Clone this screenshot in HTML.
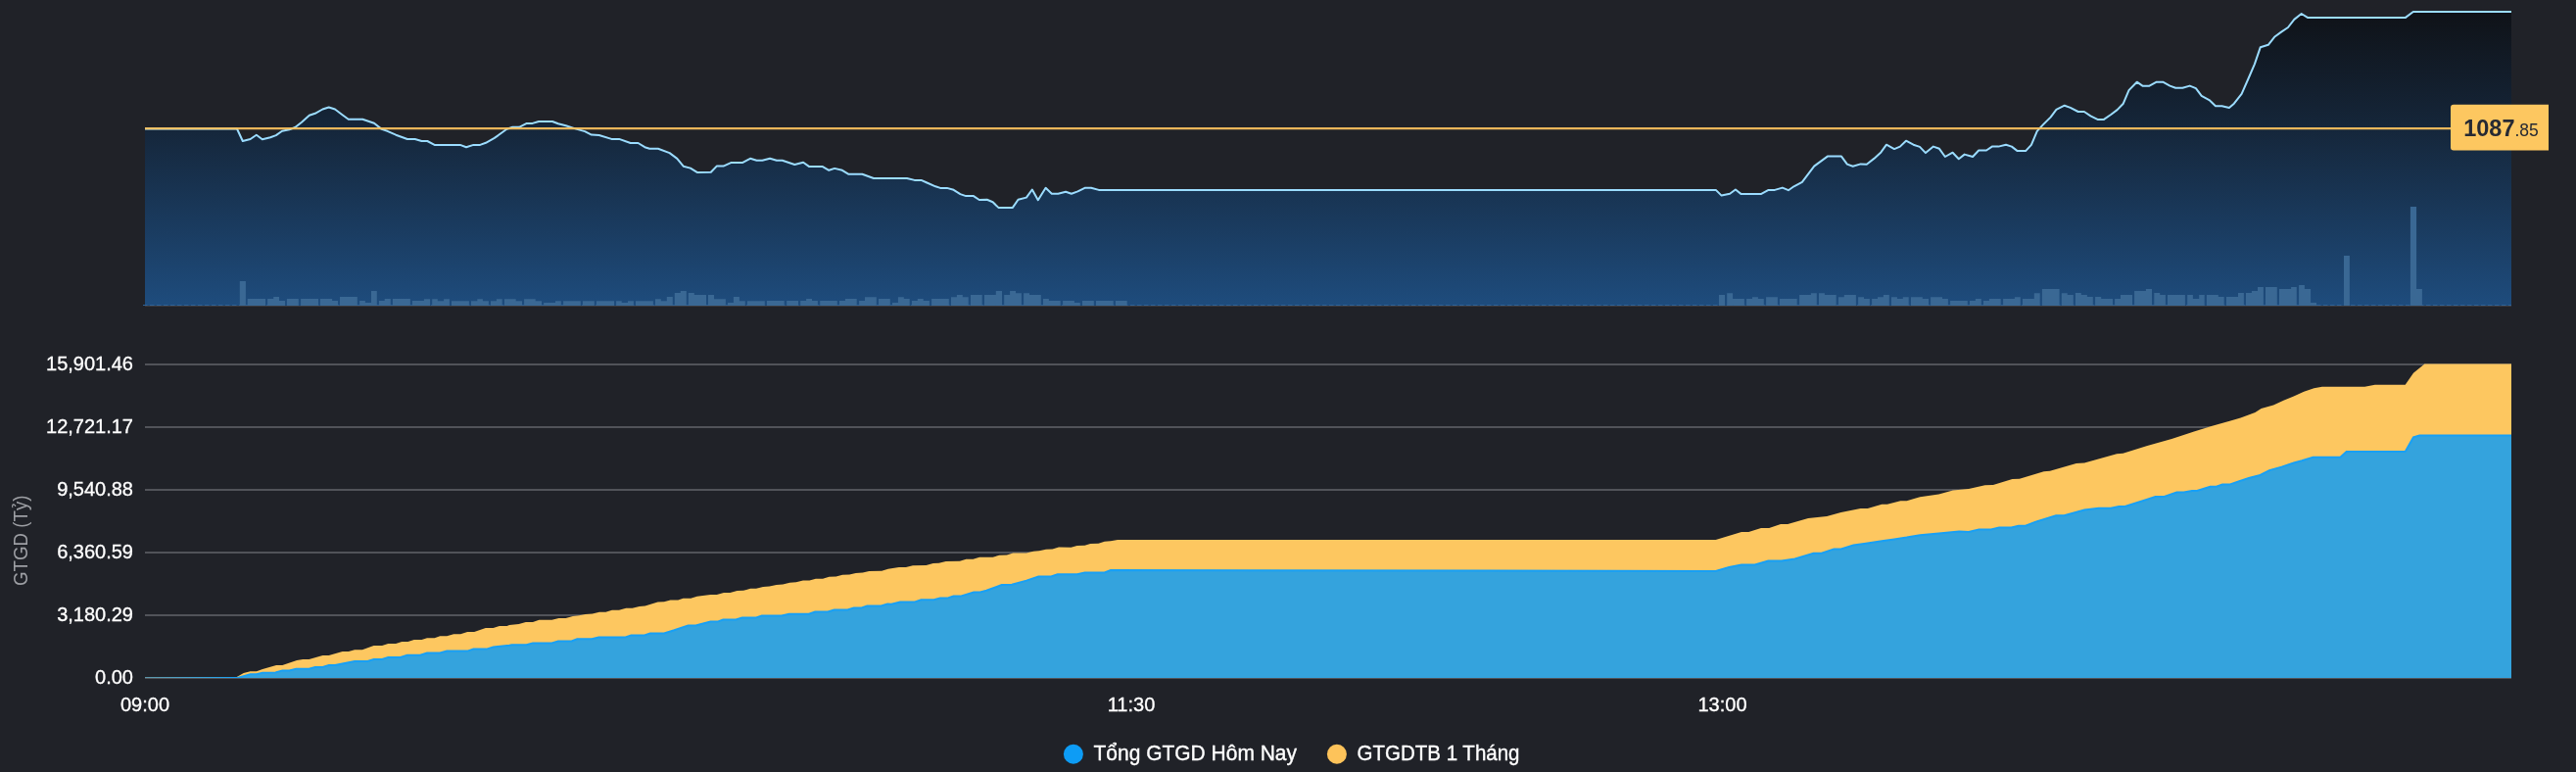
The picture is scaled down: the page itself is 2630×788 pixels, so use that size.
<!DOCTYPE html>
<html><head><meta charset="utf-8"><style>
html,body{margin:0;padding:0;background:#202228;width:2630px;height:788px;overflow:hidden}
svg{display:block;will-change:transform}
text{font-family:"Liberation Sans",sans-serif}
</style></head><body>
<svg width="2630" height="788" viewBox="0 0 2630 788">
<defs>
<linearGradient id="g1" gradientUnits="userSpaceOnUse" x1="0" y1="10" x2="0" y2="312">
<stop offset="0" stop-color="#0f1217"/>
<stop offset="0.4" stop-color="#15263a"/>
<stop offset="1" stop-color="#1e4c7d"/>
</linearGradient>
<clipPath id="c2"><rect x="148" y="300" width="2416" height="392"/></clipPath>
</defs>
<rect width="2630" height="788" fill="#202228"/>
<polygon points="148.0,131.5 242.0,131.5 247.8,144.0 255.6,142.0 261.8,137.7 267.8,142.2 276.0,140.2 281.8,138.1 288.0,133.8 295.4,132.3 301.3,130.0 308.0,124.7 315.8,117.7 321.7,115.8 329.4,111.5 335.7,109.5 342.0,111.5 348.9,116.7 355.7,121.8 370.2,121.8 382.0,125.7 389.7,131.9 395.5,133.8 404.2,137.7 415.9,142.0 423.7,142.0 430.5,144.0 436.3,144.0 443.6,147.9 469.8,147.9 476.0,150.2 483.4,147.9 490.2,147.9 496.0,145.8 504.8,140.9 511.6,136.0 517.4,131.8 523.3,129.8 530.0,129.8 537.8,125.9 543.7,125.9 550.0,124.0 564.0,124.0 569.9,126.3 577.7,128.3 587.4,131.4 597.1,134.1 603.9,137.6 611.7,138.0 624.3,141.9 632.1,141.9 643.7,146.0 651.5,146.0 658.3,150.2 663.2,151.8 671.9,151.8 683.6,156.1 691.3,161.9 697.7,169.7 704.9,171.6 711.7,175.9 725.8,175.8 731.7,169.6 738.5,169.6 746.2,166.1 757.9,166.1 766.0,161.8 772.5,163.7 778.3,163.7 786.1,161.8 792.9,163.7 798.7,163.7 811.3,168.0 820.1,165.7 825.9,169.9 839.5,169.9 846.3,173.8 852.1,171.9 859.9,173.8 866.1,177.7 880.3,177.7 892.0,182.0 926.0,182.0 933.7,183.9 940.5,183.9 946.4,186.5 955.1,190.3 960.0,191.9 966.8,191.9 973.6,193.8 980.4,198.1 986.2,200.1 994.0,200.1 999.8,204.0 1007.7,203.8 1013.6,206.2 1019.4,211.9 1033.9,211.9 1039.5,203.8 1047.9,201.6 1053.8,193.5 1059.8,204.2 1067.6,191.8 1073.8,197.7 1080.3,197.7 1088.1,195.8 1093.9,197.7 1100.4,195.4 1107.5,191.8 1114.0,191.8 1121.8,193.9 1751.8,193.9 1757.6,199.6 1766.1,197.8 1771.9,193.5 1777.7,198.1 1797.8,198.1 1805.6,193.9 1812.0,193.9 1819.8,191.6 1825.9,194.2 1831.5,190.3 1839.9,185.8 1852.2,169.6 1865.8,159.6 1880.0,159.6 1885.9,167.6 1891.7,169.8 1899.7,167.4 1905.8,167.7 1913.3,161.9 1920.4,155.4 1926.0,147.7 1934.0,152.1 1939.9,149.6 1946.0,143.7 1953.5,147.7 1960.0,149.9 1966.0,156.1 1973.9,149.6 1980.0,151.8 1985.9,160.0 1993.6,155.7 1999.8,162.2 2005.7,157.6 2014.1,160.0 2020.2,153.5 2028.0,153.5 2033.8,149.6 2040.3,149.6 2048.0,147.7 2053.9,149.6 2059.7,154.1 2068.1,154.1 2073.9,147.9 2079.8,133.9 2085.8,127.4 2093.6,119.6 2099.4,111.8 2107.8,107.7 2113.7,109.9 2121.7,114.0 2127.9,114.0 2134.4,118.3 2141.5,121.9 2148.0,121.9 2155.1,117.0 2161.6,112.1 2167.8,105.7 2173.5,92.1 2181.7,83.7 2187.8,87.8 2194.0,87.8 2201.8,83.7 2208.2,83.7 2215.4,87.6 2221.2,89.8 2228.3,89.8 2235.7,87.6 2241.9,90.1 2247.7,97.8 2255.5,102.1 2262.0,108.2 2268.5,108.2 2275.9,110.0 2280.9,105.7 2288.6,95.9 2295.6,80.0 2301.9,65.3 2307.8,48.2 2315.8,45.8 2322.1,37.8 2329.1,32.6 2336.0,28.0 2342.3,19.9 2349.7,14.0 2355.9,17.9 2456.0,17.9 2463.8,12.0 2564.0,12.0 2564,312 148,312" fill="url(#g1)"/>
<line x1="146" y1="311.5" x2="2564" y2="311.5" stroke="#2f6296" stroke-width="1" stroke-dasharray="4.5,2.5"/>
<line x1="148" y1="312.5" x2="2564" y2="312.5" stroke="#3b3a3f" stroke-width="1"/>
<g fill="#3a6894"><path d="M244.8,287.1H250.9V312H244.8ZM252.7,304.9H271.0V312H252.7ZM273.1,304.9H279.2V312H273.1ZM279.2,303.0H285.0V312H279.2ZM285.0,307.0H291.0V312H285.0ZM292.9,304.9H304.8V312H292.9ZM307.1,304.9H325.0V312H307.1ZM326.9,304.9H339.1V312H326.9ZM339.1,307.0H345.0V312H339.1ZM347.0,303.0H364.8V312H347.0ZM367.1,307.0H372.9V312H367.1ZM372.9,309.0H379.0V312H372.9ZM379.0,297.0H384.8V312H379.0ZM386.9,307.0H392.7V312H386.9ZM392.7,304.9H398.8V312H392.7ZM400.9,304.9H418.9V312H400.9ZM420.9,307.0H432.9V312H420.9ZM432.9,305.2H439.1V312H432.9ZM441.2,305.2H446.8V312H441.2ZM446.8,307.2H453.1V312H446.8ZM453.1,305.2H458.9V312H453.1ZM461.0,307.2H478.9V312H461.0ZM481.0,307.2H487.3V312H481.0ZM487.3,305.2H492.9V312H487.3ZM492.9,307.2H498.9V312H492.9ZM501.0,307.2H506.9V312H501.0ZM506.9,305.2H512.7V312H506.9ZM515.0,305.2H526.7V312H515.0ZM526.7,307.2H533.0V312H526.7ZM535.1,305.2H546.7V312H535.1ZM546.7,307.2H553.0V312H546.7ZM555.1,309.1H567.0V312H555.1ZM567.0,307.2H572.8V312H567.0ZM575.1,307.2H592.8V312H575.1ZM594.9,307.2H606.8V312H594.9ZM608.9,307.2H627.0V312H608.9ZM629.1,307.2H634.7V312H629.1ZM634.7,309.1H641.0V312H634.7ZM641.0,307.2H646.9V312H641.0ZM649.0,307.2H666.9V312H649.0ZM669.0,305.2H674.8V312H669.0ZM674.8,307.2H680.8V312H674.8ZM680.8,303.1H686.8V312H680.8ZM688.8,299.1H694.8V312H688.8ZM694.8,297.0H700.8V312H694.8ZM702.8,299.1H708.8V312H702.8ZM708.8,301.0H721.0V312H708.8ZM723.0,301.0H729.0V312H723.0ZM729.0,305.2H740.9V312H729.0ZM743.0,309.1H748.9V312H743.0ZM748.9,303.1H754.9V312H748.9ZM754.9,307.2H760.8V312H754.9ZM762.9,307.2H780.8V312H762.9ZM782.9,307.0H800.7V312H782.9ZM803.2,307.0H815.0V312H803.2ZM817.2,307.0H823.1V312H817.2ZM823.1,305.1H829.0V312H823.1ZM829.0,307.0H834.9V312H829.0ZM837.2,307.0H854.8V312H837.2ZM857.0,307.0H862.9V312H857.0ZM862.9,305.1H874.7V312H862.9ZM877.1,307.0H883.0V312H877.1ZM883.0,303.2H894.8V312H883.0ZM897.0,305.1H908.8V312H897.0ZM911.0,309.0H916.9V312H911.0ZM916.9,303.2H922.8V312H916.9ZM922.8,305.1H928.7V312H922.8ZM930.9,307.0H936.8V312H930.9ZM936.8,305.1H942.7V312H936.8ZM942.7,307.0H948.9V312H942.7ZM951.1,305.1H968.8V312H951.1ZM971.0,303.2H976.9V312H971.0ZM976.9,301.1H982.8V312H976.9ZM982.8,303.2H988.7V312H982.8ZM991.0,301.1H1002.7V312H991.0ZM1005.0,301.1H1016.8V312H1005.0ZM1016.8,297.0H1023.0V312H1016.8ZM1025.2,301.1H1031.1V312H1025.2ZM1031.1,297.0H1037.0V312H1031.1ZM1037.0,299.2H1042.9V312H1037.0ZM1045.1,299.2H1051.0V312H1045.1ZM1051.0,301.1H1062.8V312H1051.0ZM1065.0,305.1H1070.9V312H1065.0ZM1070.9,307.0H1082.7V312H1070.9ZM1085.1,307.0H1096.9V312H1085.1ZM1096.9,309.0H1102.8V312H1096.9ZM1105.0,307.0H1116.8V312H1105.0ZM1119.0,307.0H1136.7V312H1119.0ZM1138.9,307.0H1150.7V312H1138.9ZM1755.0,301.1H1761.0V312H1755.0ZM1763.2,299.2H1769.1V312H1763.2ZM1769.1,305.1H1780.9V312H1769.1ZM1783.1,305.1H1789.0V312H1783.1ZM1789.0,303.2H1794.9V312H1789.0ZM1794.9,305.1H1800.8V312H1794.9ZM1803.1,303.2H1814.9V312H1803.1ZM1817.0,305.1H1834.7V312H1817.0ZM1837.1,301.1H1848.9V312H1837.1ZM1848.9,299.2H1854.8V312H1848.9ZM1857.0,299.2H1862.9V312H1857.0ZM1862.9,301.1H1874.7V312H1862.9ZM1876.9,303.2H1882.8V312H1876.9ZM1882.8,301.1H1894.9V312H1882.8ZM1897.1,303.2H1903.0V312H1897.1ZM1903.0,305.1H1908.9V312H1903.0ZM1911.1,305.1H1917.0V312H1911.1ZM1917.0,303.2H1922.9V312H1917.0ZM1922.9,301.1H1928.8V312H1922.9ZM1931.0,303.2H1936.9V312H1931.0ZM1936.9,305.1H1942.8V312H1936.9ZM1942.8,303.2H1948.7V312H1942.8ZM1951.0,303.2H1962.8V312H1951.0ZM1962.8,305.1H1969.0V312H1962.8ZM1971.1,303.2H1983.0V312H1971.1ZM1983.0,305.1H1988.9V312H1983.0ZM1991.1,307.0H2008.8V312H1991.1ZM2011.0,307.0H2016.9V312H2011.0ZM2016.9,305.1H2022.8V312H2016.9ZM2025.0,307.0H2030.9V312H2025.0ZM2030.9,305.1H2042.7V312H2030.9ZM2045.1,305.1H2056.9V312H2045.1ZM2056.9,303.2H2062.8V312H2056.9ZM2065.0,305.1H2076.8V312H2065.0ZM2076.8,299.2H2082.7V312H2076.8ZM2084.9,295.0H2102.6V312H2084.9ZM2104.8,299.2H2110.7V312H2104.8ZM2110.7,300.9H2116.8V312H2110.7ZM2118.9,299.1H2124.8V312H2118.9ZM2124.8,300.9H2130.9V312H2124.8ZM2130.9,303.0H2136.8V312H2130.9ZM2139.1,303.0H2145.2V312H2139.1ZM2145.2,305.0H2157.0V312H2145.2ZM2159.1,305.0H2165.0V312H2159.1ZM2165.0,300.9H2177.0V312H2165.0ZM2179.1,297.0H2190.9V312H2179.1ZM2190.9,295.0H2197.0V312H2190.9ZM2199.3,299.1H2205.2V312H2199.3ZM2205.2,300.9H2210.9V312H2205.2ZM2213.0,300.9H2230.9V312H2213.0ZM2233.2,300.9H2238.9V312H2233.2ZM2238.9,305.0H2245.2V312H2238.9ZM2245.2,300.9H2250.7V312H2245.2ZM2252.9,300.9H2264.8V312H2252.9ZM2264.8,303.0H2270.7V312H2264.8ZM2273.0,303.0H2285.0V312H2273.0ZM2285.0,299.1H2290.9V312H2285.0ZM2293.0,299.1H2298.9V312H2293.0ZM2298.9,297.0H2305.0V312H2298.9ZM2305.0,292.9H2310.9V312H2305.0ZM2313.0,292.9H2324.8V312H2313.0ZM2327.0,295.0H2339.1V312H2327.0ZM2339.1,292.9H2344.8V312H2339.1ZM2347.1,291.1H2352.9V312H2347.1ZM2352.9,295.0H2359.1V312H2352.9ZM2359.1,308.9H2365.0V312H2359.1ZM2393.0,261.1H2398.9V312H2393.0ZM2460.9,211.1H2467.1V312H2460.9ZM2467.1,295.0H2472.9V312H2467.1Z"/></g>
<polyline points="148.0,131.5 242.0,131.5 247.8,144.0 255.6,142.0 261.8,137.7 267.8,142.2 276.0,140.2 281.8,138.1 288.0,133.8 295.4,132.3 301.3,130.0 308.0,124.7 315.8,117.7 321.7,115.8 329.4,111.5 335.7,109.5 342.0,111.5 348.9,116.7 355.7,121.8 370.2,121.8 382.0,125.7 389.7,131.9 395.5,133.8 404.2,137.7 415.9,142.0 423.7,142.0 430.5,144.0 436.3,144.0 443.6,147.9 469.8,147.9 476.0,150.2 483.4,147.9 490.2,147.9 496.0,145.8 504.8,140.9 511.6,136.0 517.4,131.8 523.3,129.8 530.0,129.8 537.8,125.9 543.7,125.9 550.0,124.0 564.0,124.0 569.9,126.3 577.7,128.3 587.4,131.4 597.1,134.1 603.9,137.6 611.7,138.0 624.3,141.9 632.1,141.9 643.7,146.0 651.5,146.0 658.3,150.2 663.2,151.8 671.9,151.8 683.6,156.1 691.3,161.9 697.7,169.7 704.9,171.6 711.7,175.9 725.8,175.8 731.7,169.6 738.5,169.6 746.2,166.1 757.9,166.1 766.0,161.8 772.5,163.7 778.3,163.7 786.1,161.8 792.9,163.7 798.7,163.7 811.3,168.0 820.1,165.7 825.9,169.9 839.5,169.9 846.3,173.8 852.1,171.9 859.9,173.8 866.1,177.7 880.3,177.7 892.0,182.0 926.0,182.0 933.7,183.9 940.5,183.9 946.4,186.5 955.1,190.3 960.0,191.9 966.8,191.9 973.6,193.8 980.4,198.1 986.2,200.1 994.0,200.1 999.8,204.0 1007.7,203.8 1013.6,206.2 1019.4,211.9 1033.9,211.9 1039.5,203.8 1047.9,201.6 1053.8,193.5 1059.8,204.2 1067.6,191.8 1073.8,197.7 1080.3,197.7 1088.1,195.8 1093.9,197.7 1100.4,195.4 1107.5,191.8 1114.0,191.8 1121.8,193.9 1751.8,193.9 1757.6,199.6 1766.1,197.8 1771.9,193.5 1777.7,198.1 1797.8,198.1 1805.6,193.9 1812.0,193.9 1819.8,191.6 1825.9,194.2 1831.5,190.3 1839.9,185.8 1852.2,169.6 1865.8,159.6 1880.0,159.6 1885.9,167.6 1891.7,169.8 1899.7,167.4 1905.8,167.7 1913.3,161.9 1920.4,155.4 1926.0,147.7 1934.0,152.1 1939.9,149.6 1946.0,143.7 1953.5,147.7 1960.0,149.9 1966.0,156.1 1973.9,149.6 1980.0,151.8 1985.9,160.0 1993.6,155.7 1999.8,162.2 2005.7,157.6 2014.1,160.0 2020.2,153.5 2028.0,153.5 2033.8,149.6 2040.3,149.6 2048.0,147.7 2053.9,149.6 2059.7,154.1 2068.1,154.1 2073.9,147.9 2079.8,133.9 2085.8,127.4 2093.6,119.6 2099.4,111.8 2107.8,107.7 2113.7,109.9 2121.7,114.0 2127.9,114.0 2134.4,118.3 2141.5,121.9 2148.0,121.9 2155.1,117.0 2161.6,112.1 2167.8,105.7 2173.5,92.1 2181.7,83.7 2187.8,87.8 2194.0,87.8 2201.8,83.7 2208.2,83.7 2215.4,87.6 2221.2,89.8 2228.3,89.8 2235.7,87.6 2241.9,90.1 2247.7,97.8 2255.5,102.1 2262.0,108.2 2268.5,108.2 2275.9,110.0 2280.9,105.7 2288.6,95.9 2295.6,80.0 2301.9,65.3 2307.8,48.2 2315.8,45.8 2322.1,37.8 2329.1,32.6 2336.0,28.0 2342.3,19.9 2349.7,14.0 2355.9,17.9 2456.0,17.9 2463.8,12.0 2564.0,12.0" fill="none" stroke="#9bdcff" stroke-width="2" stroke-linejoin="round"/>
<line x1="148" y1="131.2" x2="2502" y2="131.2" stroke="#fcc35e" stroke-width="2.2" stroke-opacity="0.92"/>
<path d="M2505,106.8 H2602 V153.5 H2505 Q2502,153.5 2502,150.5 V109.8 Q2502,106.8 2505,106.8 Z" fill="#fdc760"/>
<text x="2515.2" y="139" fill="#272a33" font-size="23.5" font-weight="bold">1087<tspan font-size="17.5" font-weight="normal">.85</tspan></text>
<g stroke="#515359" stroke-width="2"><line x1="148" y1="372" x2="2564" y2="372"/><line x1="148" y1="436" x2="2564" y2="436"/><line x1="148" y1="500" x2="2564" y2="500"/><line x1="148" y1="564" x2="2564" y2="564"/><line x1="148" y1="628" x2="2564" y2="628"/><line x1="148" y1="692" x2="2564" y2="692"/></g>
<g clip-path="url(#c2)">
<polygon points="148.0,691.5 241.7,691.1 248.7,687.0 255.6,685.2 261.9,685.2 268.1,683.1 282.1,679.0 288.3,679.0 303.1,674.0 309.3,673.0 315.5,673.0 329.5,669.1 335.7,669.1 349.7,665.0 355.9,665.0 362.1,663.2 369.9,663.2 381.6,659.0 390.1,659.0 396.3,657.0 404.1,657.0 410.3,655.1 416.5,655.1 422.8,653.1 430.5,653.1 436.0,651.2 443.7,651.2 449.2,649.2 456.2,649.2 463.2,647.2 470.2,647.2 477.2,645.0 484.2,645.0 495.8,641.1 503.6,641.1 509.8,639.1 517.6,639.1 520.0,637.9 529.7,637.0 536.8,635.1 544.0,635.1 550.4,632.8 563.4,632.8 570.5,630.9 577.6,630.9 584.8,629.0 591.2,628.2 597.7,626.9 604.8,626.4 612.0,624.7 618.4,624.7 624.9,622.7 632.0,622.7 639.2,620.8 645.6,620.8 652.8,618.9 658.6,618.6 671.6,614.6 678.0,614.3 684.5,612.6 692.3,612.6 697.5,610.8 705.2,610.8 711.7,608.8 725.4,606.9 731.8,606.9 739.0,605.0 745.4,605.0 752.6,603.0 759.0,602.7 766.2,600.8 772.0,600.8 779.1,598.9 785.6,598.6 792.7,596.9 799.2,596.5 806.3,594.7 812.8,594.3 819.9,592.6 826.4,592.6 832.9,590.7 840.0,590.7 846.5,588.8 853.6,588.5 860.1,586.8 867.2,586.6 873.7,584.9 880.8,584.6 887.3,582.9 900.2,582.7 906.7,580.7 917.8,579.1 924.9,578.9 932.0,577.2 945.6,576.9 952.7,575.0 958.6,574.7 965.7,573.0 979.9,572.8 986.4,570.8 993.5,570.7 1000.0,568.8 1013.6,568.8 1020.1,566.8 1027.9,566.6 1034.4,564.6 1048.0,564.4 1055.1,562.7 1060.9,562.3 1068.0,560.7 1074.5,560.5 1081.0,558.5 1093.5,558.8 1099.7,556.9 1107.5,556.7 1113.2,554.9 1121.5,554.7 1127.7,552.8 1133.9,552.3 1141.1,550.9 1751.7,551.1 1778.0,543.1 1785.3,543.1 1798.0,538.9 1806.2,538.9 1818.0,534.9 1825.2,534.9 1846.1,528.9 1865.1,527.1 1879.6,523.1 1899.6,519.0 1906.8,519.0 1921.3,514.8 1926.8,514.8 1940.4,511.2 1946.7,511.2 1960.3,507.2 1979.4,504.4 1993.9,500.4 2004.8,499.5 2010.0,499.0 2026.6,495.3 2034.9,494.9 2054.5,489.1 2061.8,488.7 2086.7,481.2 2092.9,480.8 2119.8,472.9 2128.1,472.5 2161.2,463.2 2167.5,462.8 2192.3,454.9 2217.2,448.1 2240.0,440.4 2258.6,434.8 2277.3,429.6 2287.6,426.5 2302.4,421.1 2308.6,417.0 2321.1,413.5 2331.4,408.7 2341.8,404.5 2352.2,399.8 2362.5,396.3 2370.8,394.8 2414.3,394.8 2424.7,392.7 2455.7,392.7 2464.0,380.7 2475.4,371.4 2564.0,371.4 2564,692 148,692" fill="#fdc760"/>
<polygon points="148.0,692.5 241.7,692.1 255.6,688.3 261.9,688.3 268.1,686.7 281.3,686.4 288.3,684.4 295.3,684.4 302.3,682.8 315.5,682.8 321.7,681.0 329.5,681.0 335.7,678.9 341.9,678.9 362.1,675.0 375.3,675.0 381.6,673.0 390.1,673.0 396.3,670.9 408.8,670.9 415.8,668.8 429.0,668.8 436.0,666.5 449.2,666.5 456.2,664.6 477.2,664.6 483.4,662.6 496.6,662.6 503.6,660.6 520.0,658.7 522.6,658.3 537.5,658.3 544.0,656.4 563.4,656.4 569.9,654.4 583.5,654.4 589.3,652.2 604.2,652.2 611.3,650.6 637.9,650.6 644.4,648.4 658.0,648.4 663.8,646.4 678.0,646.4 688.4,643.2 702.6,638.4 710.4,638.4 715.0,637.2 725.4,634.6 732.5,634.6 738.3,632.5 751.3,632.5 757.7,630.6 771.3,630.6 777.8,628.4 797.9,628.4 805.7,626.7 825.8,626.7 832.2,624.5 845.2,624.5 851.7,622.5 865.3,622.5 871.7,620.6 878.9,620.6 885.3,618.4 899.6,618.4 906.1,616.4 910.0,616.8 919.1,614.6 933.3,614.6 940.4,612.2 953.4,612.2 959.9,610.6 967.0,610.6 973.5,608.6 980.6,608.6 994.2,604.5 1000.7,604.5 1007.2,602.8 1022.7,597.1 1033.1,596.7 1048.0,592.6 1060.3,588.5 1073.2,588.5 1079.7,586.3 1099.8,586.3 1107.5,584.4 1127.7,584.4 1133.9,582.1 1751.7,582.9 1765.3,578.9 1778.0,576.5 1791.6,576.5 1805.3,572.6 1818.9,572.6 1832.5,570.4 1851.5,564.8 1859.7,564.8 1872.4,560.4 1879.6,560.4 1892.3,556.6 1905.0,554.8 1921.3,552.2 1934.0,550.4 1946.7,548.6 1960.3,546.3 1979.4,544.4 2000.2,542.6 2010.0,542.9 2020.4,540.4 2032.8,540.4 2041.1,538.4 2053.5,538.4 2060.8,536.7 2068.0,536.7 2078.4,532.6 2099.1,526.3 2107.4,526.3 2128.1,520.5 2142.6,518.7 2155.0,518.7 2163.3,517.0 2169.5,517.0 2200.6,507.1 2208.9,507.1 2222.4,502.5 2229.6,502.5 2237.9,500.9 2243.1,500.9 2256.5,496.7 2262.8,496.7 2269.0,494.6 2276.2,494.6 2295.9,488.0 2306.6,485.3 2316.9,480.1 2329.4,476.6 2341.8,472.5 2350.1,470.2 2361.5,466.7 2389.4,466.7 2395.7,460.9 2455.7,460.9 2464.0,446.4 2470.2,444.5 2564.0,444.5 2564,692 148,692" fill="#34a3dd"/>
<polyline points="148.0,692.5 241.7,692.1 255.6,688.3 261.9,688.3 268.1,686.7 281.3,686.4 288.3,684.4 295.3,684.4 302.3,682.8 315.5,682.8 321.7,681.0 329.5,681.0 335.7,678.9 341.9,678.9 362.1,675.0 375.3,675.0 381.6,673.0 390.1,673.0 396.3,670.9 408.8,670.9 415.8,668.8 429.0,668.8 436.0,666.5 449.2,666.5 456.2,664.6 477.2,664.6 483.4,662.6 496.6,662.6 503.6,660.6 520.0,658.7 522.6,658.3 537.5,658.3 544.0,656.4 563.4,656.4 569.9,654.4 583.5,654.4 589.3,652.2 604.2,652.2 611.3,650.6 637.9,650.6 644.4,648.4 658.0,648.4 663.8,646.4 678.0,646.4 688.4,643.2 702.6,638.4 710.4,638.4 715.0,637.2 725.4,634.6 732.5,634.6 738.3,632.5 751.3,632.5 757.7,630.6 771.3,630.6 777.8,628.4 797.9,628.4 805.7,626.7 825.8,626.7 832.2,624.5 845.2,624.5 851.7,622.5 865.3,622.5 871.7,620.6 878.9,620.6 885.3,618.4 899.6,618.4 906.1,616.4 910.0,616.8 919.1,614.6 933.3,614.6 940.4,612.2 953.4,612.2 959.9,610.6 967.0,610.6 973.5,608.6 980.6,608.6 994.2,604.5 1000.7,604.5 1007.2,602.8 1022.7,597.1 1033.1,596.7 1048.0,592.6 1060.3,588.5 1073.2,588.5 1079.7,586.3 1099.8,586.3 1107.5,584.4 1127.7,584.4 1133.9,582.1 1751.7,582.9 1765.3,578.9 1778.0,576.5 1791.6,576.5 1805.3,572.6 1818.9,572.6 1832.5,570.4 1851.5,564.8 1859.7,564.8 1872.4,560.4 1879.6,560.4 1892.3,556.6 1905.0,554.8 1921.3,552.2 1934.0,550.4 1946.7,548.6 1960.3,546.3 1979.4,544.4 2000.2,542.6 2010.0,542.9 2020.4,540.4 2032.8,540.4 2041.1,538.4 2053.5,538.4 2060.8,536.7 2068.0,536.7 2078.4,532.6 2099.1,526.3 2107.4,526.3 2128.1,520.5 2142.6,518.7 2155.0,518.7 2163.3,517.0 2169.5,517.0 2200.6,507.1 2208.9,507.1 2222.4,502.5 2229.6,502.5 2237.9,500.9 2243.1,500.9 2256.5,496.7 2262.8,496.7 2269.0,494.6 2276.2,494.6 2295.9,488.0 2306.6,485.3 2316.9,480.1 2329.4,476.6 2341.8,472.5 2350.1,470.2 2361.5,466.7 2389.4,466.7 2395.7,460.9 2455.7,460.9 2464.0,446.4 2470.2,444.5 2564.0,444.5" fill="none" stroke="#18a0f5" stroke-width="2"/>
</g>
<g fill="#ffffff" font-size="20" text-anchor="end" stroke="#ffffff" stroke-width="0.3"><text x="136" y="378.0">15,901.46</text><text x="136" y="442.0">12,721.17</text><text x="136" y="506.0">9,540.88</text><text x="136" y="570.0">6,360.59</text><text x="136" y="634.0">3,180.29</text><text x="136" y="697.5">0.00</text></g>
<text x="-46.25" y="0" transform="translate(28.3,551.7) rotate(-90)" fill="#9d9fa4" font-size="20" textLength="92.5" lengthAdjust="spacingAndGlyphs">GTGD (Tỷ)</text>
<g fill="#ffffff" font-size="20" text-anchor="middle" stroke="#ffffff" stroke-width="0.3">
<text x="148" y="726">09:00</text>
<text x="1155" y="726">11:30</text>
<text x="1758.5" y="726">13:00</text>
</g>
<circle cx="1095.9" cy="769.8" r="10" fill="#0d9cf5"/>
<circle cx="1364.9" cy="769.8" r="10" fill="#fdc35a"/>
<g fill="#ffffff" font-size="22" stroke="#ffffff" stroke-width="0.35">
<text x="1116.5" y="776" textLength="207.5" lengthAdjust="spacingAndGlyphs">Tổng GTGD Hôm Nay</text>
<text x="1385.5" y="776" textLength="166" lengthAdjust="spacingAndGlyphs">GTGDTB 1 Tháng</text>
</g>
</svg>
</body></html>
